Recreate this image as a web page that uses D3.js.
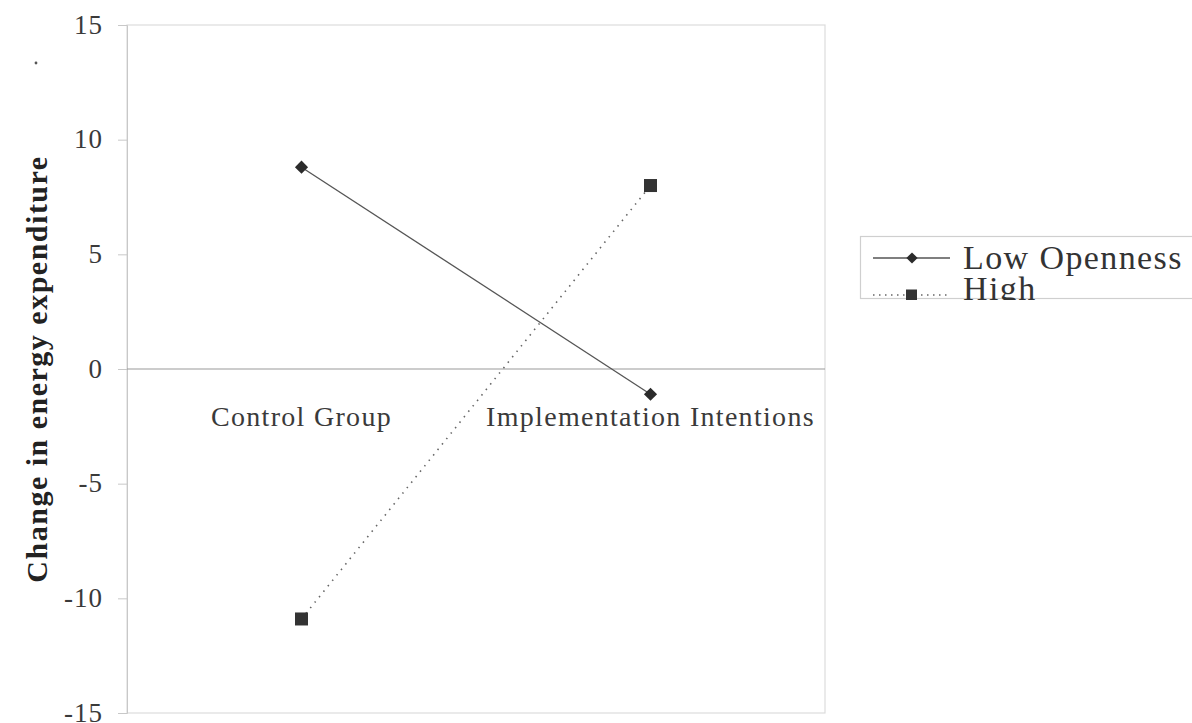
<!DOCTYPE html>
<html>
<head>
<meta charset="utf-8">
<script src="https://cdn.jsdelivr.net/npm/d3@7"></script>
<style>
  body { margin: 0; background: #fff; }
  svg text { font-family: "Liberation Serif", "Times New Roman", serif; }
</style>
</head>
<body>
<div id="chart"></div>
<script>
// data
var categories = ["Control Group", "Implementation Intentions"];
var lowOpenness = [8.8, -1.1];
var highOpenness = [-10.9, 8.0];
var yTicks = [15, 10, 5, 0, -5, -10, -15];
var seriesNames = ["Low Openness", "High"];

var width = 1192, height = 723;
var margin = {top: 25, right: 367, bottom: 10, left: 127};

var svg = d3.select("#chart").append("svg")
    .attr("width", width)
    .attr("height", height);

var x = d3.scaleBand()
    .domain(categories)
    .range([margin.left, width - margin.right]);

var y = d3.scaleLinear()
    .domain([-15, 15])
    .range([713, margin.top]);

// plot frame (light)
svg.append("rect")
    .attr("x", margin.left)
    .attr("y", y(15))
    .attr("width", x.range()[1] - margin.left)
    .attr("height", y(-15) - y(15))
    .attr("fill", "none")
    .attr("stroke", "#dcdcdc")
    .attr("stroke-width", 1.2);

// y axis
var yAxis = d3.axisLeft(y).tickValues(yTicks).tickSize(9).tickPadding(15)
    .tickFormat(d => String(d));
var gy = svg.append("g")
    .attr("transform", "translate(" + margin.left + ",0)")
    .call(yAxis);
gy.select(".domain").attr("stroke", "#c8c8c8");
gy.selectAll(".tick line").attr("stroke", "#c8c8c8");
gy.selectAll(".tick text")
    .attr("fill", "#3a3a3a")
    .attr("dy", "0.3em")
    .style("font-size", "27px")
    .style("letter-spacing", "1px");

// zero line
svg.append("line")
    .attr("x1", margin.left)
    .attr("x2", x.range()[1])
    .attr("y1", y(0))
    .attr("y2", y(0))
    .attr("stroke", "#9a9a9a")
    .attr("stroke-width", 1.2);

// category labels
svg.selectAll(".cat")
    .data(categories).enter()
    .append("text")
    .attr("class", "cat")
    .attr("x", d => x(d) + x.bandwidth() / 2)
    .attr("y", y(0) + 57)
    .attr("text-anchor", "middle")
    .attr("fill", "#3a3a3a")
    .style("font-size", "28px")
    .style("letter-spacing", "1.3px")
    .text(d => d);

// y title
svg.append("text")
    .attr("transform", "translate(47," + y(0) + ") rotate(-90)")
    .attr("text-anchor", "middle")
    .attr("fill", "#222")
    .style("font-size", "30px")
    .style("letter-spacing", "1.5px")
    .style("font-weight", "bold")
    .text("Change in energy expenditure");

svg.append("circle")
    .attr("cx", 36).attr("cy", 63).attr("r", 1.4).attr("fill", "#555");

var line = d3.line()
    .x((d, i) => x(categories[i]) + x.bandwidth() / 2)
    .y(d => y(d));

// low openness: solid line with diamonds
svg.append("path")
    .datum(lowOpenness)
    .attr("d", line)
    .attr("fill", "none")
    .attr("stroke", "#555")
    .attr("stroke-width", 1.3);

var diamond = d3.symbol().type(d3.symbolDiamond2).size(110);
svg.selectAll(".low")
    .data(lowOpenness).enter()
    .append("path")
    .attr("class", "low")
    .attr("d", diamond)
    .attr("transform", (d, i) => "translate(" + (x(categories[i]) + x.bandwidth() / 2) + "," + y(d) + ")")
    .attr("fill", "#2b2b2b");

// high: dotted line with squares
svg.append("path")
    .datum(highOpenness)
    .attr("d", line)
    .attr("fill", "none")
    .attr("stroke", "#666")
    .attr("stroke-width", 1.6)
    .attr("stroke-dasharray", "1.5,5.5");

svg.selectAll(".high")
    .data(highOpenness).enter()
    .append("rect")
    .attr("class", "high")
    .attr("x", (d, i) => x(categories[i]) + x.bandwidth() / 2 - 6.5)
    .attr("y", d => y(d) - 6.5)
    .attr("width", 13)
    .attr("height", 13)
    .attr("fill", "#333");

// legend (bottom is cut off like the original)
svg.append("clipPath").attr("id", "legclip")
    .append("rect").attr("x", 855).attr("y", 230).attr("width", 340).attr("height", 70);

var legend = svg.append("g").attr("clip-path", "url(#legclip)");
legend.append("rect")
    .attr("x", 860.5).attr("y", 236.5)
    .attr("width", 340).attr("height", 62)
    .attr("fill", "#fff")
    .attr("stroke", "#cfcfcf")
    .attr("stroke-width", 1.2);

var legRows = [
    {name: seriesNames[0], y: 258, ty: 269, dash: null, stroke: "#555"},
    {name: seriesNames[1], y: 295, ty: 300, dash: "1.5,4.5", stroke: "#666"}
];
legRows.forEach(function(r, i) {
    legend.append("line")
        .attr("x1", 873).attr("x2", 950)
        .attr("y1", r.y).attr("y2", r.y)
        .attr("stroke", r.stroke)
        .attr("stroke-width", 1.3)
        .attr("stroke-dasharray", r.dash);
    if (i == 0) {
        legend.append("path")
            .attr("d", d3.symbol().type(d3.symbolDiamond2).size(80))
            .attr("transform", "translate(912," + r.y + ")")
            .attr("fill", "#2b2b2b");
    } else {
        legend.append("rect")
            .attr("x", 906).attr("y", r.y - 5.5)
            .attr("width", 11).attr("height", 11)
            .attr("fill", "#333");
    }
    legend.append("text")
        .attr("x", 963)
        .attr("y", r.ty)
        .attr("fill", "#333")
        .style("font-size", "34px")
        .style("letter-spacing", "1.4px")
        .text(r.name);
});
</script>
</body>
</html>
